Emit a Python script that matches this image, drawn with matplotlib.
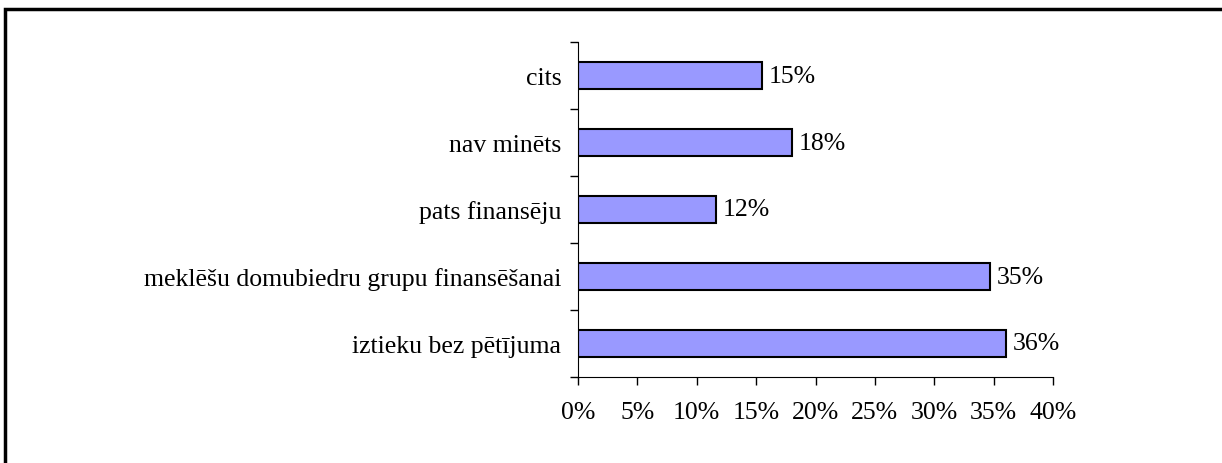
import matplotlib.pyplot as plt
from matplotlib.patches import Rectangle
from matplotlib.ticker import FixedLocator

categories = ['iztieku bez pētījuma', 'meklēšu domubiedru grupu finansēšanai',
              'pats finansēju', 'nav minēts', 'cits']
values = [36.0, 34.7, 11.6, 18.0, 15.5]
labels = ['36%', '35%', '12%', '18%', '15%']
xticks = [0, 5, 10, 15, 20, 25, 30, 35, 40]

plt.rcParams['font.family'] = ['Liberation Serif', 'DejaVu Serif']
plt.rcParams['font.size'] = 18.5

fig = plt.figure(figsize=(12.22, 4.64), dpi=100)
ax = fig.add_axes([578 / 1222, 1 - 378 / 464, 475 / 1222, 335 / 464])

pos = range(len(categories))
ax.barh(pos, values, height=0.4, color='#9999ff', edgecolor='black', linewidth=1.5)

for y, v, lab in zip(pos, values, labels):
    ax.annotate(lab, (v, y), xytext=(5, 0), textcoords='offset points',
                va='center', ha='left')

ax.set_xlim(0, 40)
ax.set_ylim(-0.5, len(categories) - 0.5)
ax.set_xticks(xticks)
ax.set_xticklabels(['%d%%' % t for t in xticks])
ax.set_yticks(list(pos))
ax.set_yticklabels(categories)
ax.yaxis.set_minor_locator(FixedLocator([i - 0.5 for i in range(len(categories) + 1)]))
ax.tick_params(axis='y', which='major', length=0, pad=12)
ax.tick_params(axis='y', which='minor', length=6, width=1, direction='out')
ax.tick_params(axis='x', length=6, width=1, direction='out', pad=11)

for s in ['top', 'right']:
    ax.spines[s].set_visible(False)

fig.patches.append(Rectangle((5 / 1222, -0.1), 1.2, 1 - 9.5 / 464 + 0.1,
                             transform=fig.transFigure, fill=False,
                             edgecolor='black', linewidth=2.5))

fig.savefig('out.png', dpi=100)
